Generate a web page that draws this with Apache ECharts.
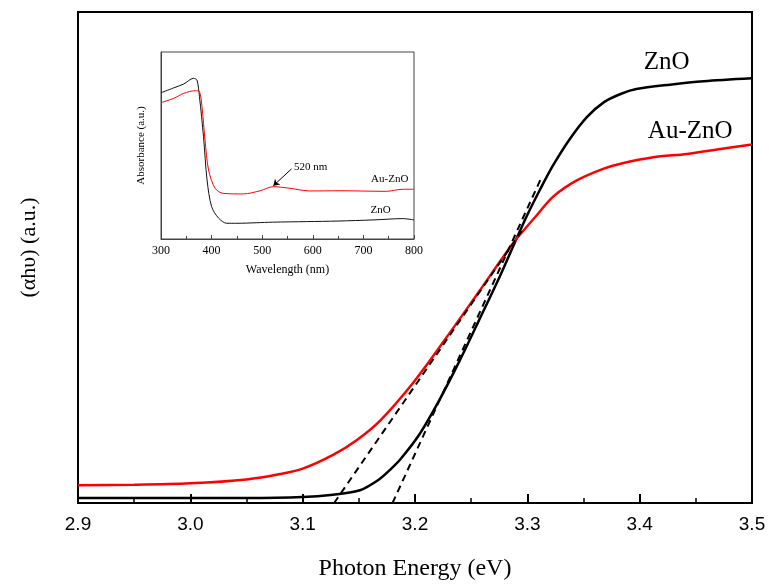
<!DOCTYPE html>
<html>
<head>
<meta charset="utf-8">
<script src="https://cdn.jsdelivr.net/npm/echarts/dist/echarts.min.js"></script>
<style>
  html, body { margin: 0; padding: 0; background: #fff; }
  #chartTauc { width: 769px; height: 586px; }
</style>
</head>
<body>
<div id="chartTauc"></div>
<script>
// main plot: (ahv) vs photon energy
const energyZnO = [2.90, 3.00, 3.05, 3.10, 3.127, 3.151, 3.168, 3.178, 3.187, 3.204, 3.222, 3.240, 3.258, 3.276, 3.288, 3.299, 3.311, 3.323, 3.338, 3.353, 3.368, 3.383, 3.397, 3.427, 3.457, 3.50]
const alphaZnO = [1.0, 1.0, 1.0, 1.2, 1.7, 2.6, 4.8, 6.8, 8.9, 14.0, 21.1, 29.1, 37.7, 46.4, 52.6, 58.2, 63.7, 68.8, 74.2, 78.6, 81.6, 83.3, 84.3, 85.2, 85.9, 86.5]
const energyAu = [2.90, 2.95, 3.00, 3.05, 3.08, 3.10, 3.127, 3.148, 3.169, 3.198, 3.228, 3.258, 3.288, 3.308, 3.323, 3.344, 3.368, 3.383, 3.412, 3.442, 3.472, 3.50]
const alphaAu = [3.6, 3.7, 4.0, 4.8, 5.9, 7.0, 9.8, 12.8, 16.8, 24.4, 33.7, 43.4, 53.1, 58.5, 62.4, 65.7, 68.1, 69.1, 70.4, 71.1, 72.1, 73.0]
// tangent (band gap) lines
const tangentAu = [[3.128, 0], [3.295, 55.4]]
const tangentZnO = [[3.180, 0], [3.312, 66]]

// inset: absorbance vs wavelength
const wlZnO = [300, 324, 345, 364, 371, 376, 384, 391, 400, 414, 430, 450, 489, 520, 588, 650, 719, 778, 800]
const absZnO = [78.2, 80.7, 82.9, 85.9, 85.0, 76.1, 54.7, 31.6, 17.3, 11.1, 8.4, 8.4, 8.7, 9.0, 9.3, 9.6, 10.2, 10.9, 10.2]
const wlAu = [300, 325, 345, 368, 376, 381, 387, 394, 407, 423, 463, 496, 522, 555, 594, 653, 745, 778, 800]
const absAu = [72.9, 75.2, 77.9, 79.3, 78.8, 70.7, 52.9, 36.9, 27.1, 24.4, 24.1, 25.8, 28.0, 27.1, 25.7, 25.8, 25.5, 26.6, 26.6]

const zip = (xs, ys) => xs.map((x, i) => [x, ys[i]])
const serif = 'Liberation Serif'

let myChart = echarts.init(document.getElementById('chartTauc'))
let option = {
  animation: false,
  backgroundColor: '#fff',
  grid: [
    { left: 78, top: 12, right: 17, bottom: 74, show: true, borderColor: '#000', borderWidth: 2 },
    { left: 161, top: 52, width: 253, height: 187, show: true, borderColor: '#444', borderWidth: 1, backgroundColor: '#fff' }
  ],
  xAxis: [
    {
      gridIndex: 0,
      type: 'value',
      min: 2.9,
      max: 3.5,
      interval: 0.1,
      splitLine: { show: false },
      axisLine: { lineStyle: { color: '#000', width: 2 } },
      axisTick: { inside: true, length: 9, lineStyle: { color: '#000', width: 2 } },
      minorTick: { show: true, splitNumber: 2, length: 5, lineStyle: { color: '#000', width: 1.5 } },
      axisLabel: {
        margin: 12,
        color: '#000',
        fontFamily: 'Liberation Sans',
        fontSize: 19,
        formatter: v => v.toFixed(1)
      },
      name: 'Photon Energy (eV)',
      nameLocation: 'middle',
      nameGap: 54,
      nameTextStyle: { color: '#000', fontFamily: serif, fontSize: 24 }
    },
    {
      gridIndex: 1,
      type: 'value',
      min: 300,
      max: 800,
      interval: 100,
      splitLine: { show: false },
      axisLine: { lineStyle: { color: '#444', width: 1 } },
      axisTick: { inside: true, length: 4, lineStyle: { color: '#444' } },
      minorTick: { show: true, splitNumber: 2, length: 3, lineStyle: { color: '#444' } },
      axisLabel: { margin: 6, color: '#000', fontFamily: serif, fontSize: 12 },
      name: 'Wavelength (nm)',
      nameLocation: 'middle',
      nameGap: 25,
      nameTextStyle: { color: '#000', fontFamily: serif, fontSize: 12 }
    }
  ],
  yAxis: [
    {
      gridIndex: 0,
      type: 'value',
      min: 0,
      max: 100,
      splitLine: { show: false },
      axisTick: { show: false },
      axisLabel: { show: false },
      axisLine: { show: true, lineStyle: { color: '#000', width: 2 } },
      name: '(αhυ) (a.u.)',
      nameLocation: 'middle',
      nameGap: 38,
      nameTextStyle: { color: '#000', fontFamily: serif, fontSize: 22, padding: [0, 0, 0, 20] }
    },
    {
      gridIndex: 1,
      type: 'value',
      min: 0,
      max: 100,
      splitLine: { show: false },
      axisTick: { show: false },
      axisLabel: { show: false },
      axisLine: { show: true, lineStyle: { color: '#444', width: 1 } },
      name: 'Absorbance (a.u.)',
      nameLocation: 'middle',
      nameGap: 14,
      nameTextStyle: { color: '#000', fontFamily: serif, fontSize: 11 }
    }
  ],
  series: [
    {
      name: 'ZnO',
      type: 'line',
      xAxisIndex: 0,
      yAxisIndex: 0,
      data: zip(energyZnO, alphaZnO),
      smooth: 0.3,
      showSymbol: false,
      lineStyle: { color: '#000', width: 2.5 },
      markPoint: {
        symbol: 'circle',
        symbolSize: 0,
        label: { show: true, position: 'inside', formatter: 'ZnO', color: '#000', fontFamily: serif, fontSize: 25 },
        data: [{ coord: [3.424, 89.8] }]
      }
    },
    {
      name: 'Au-ZnO',
      type: 'line',
      xAxisIndex: 0,
      yAxisIndex: 0,
      data: zip(energyAu, alphaAu),
      smooth: 0.3,
      showSymbol: false,
      lineStyle: { color: '#ff0000', width: 2.5 },
      markPoint: {
        symbol: 'circle',
        symbolSize: 0,
        label: { show: true, position: 'inside', formatter: 'Au-ZnO', color: '#000', fontFamily: serif, fontSize: 25 },
        data: [{ coord: [3.445, 75.6] }]
      }
    },
    {
      type: 'line',
      xAxisIndex: 0,
      yAxisIndex: 0,
      data: tangentAu,
      showSymbol: false,
      z: 3,
      lineStyle: { color: '#000', width: 2, type: [7, 5] }
    },
    {
      type: 'line',
      xAxisIndex: 0,
      yAxisIndex: 0,
      data: tangentZnO,
      showSymbol: false,
      z: 3,
      lineStyle: { color: '#000', width: 2, type: [7, 5] }
    },
    {
      name: 'ZnO inset',
      type: 'line',
      xAxisIndex: 1,
      yAxisIndex: 1,
      data: zip(wlZnO, absZnO),
      smooth: 0.3,
      showSymbol: false,
      lineStyle: { color: '#111', width: 1 },
      markPoint: {
        symbol: 'circle',
        symbolSize: 0,
        label: { show: true, position: 'inside', formatter: 'ZnO', color: '#000', fontFamily: serif, fontSize: 11 },
        data: [{ coord: [734, 15.5] }]
      }
    },
    {
      name: 'Au-ZnO inset',
      type: 'line',
      xAxisIndex: 1,
      yAxisIndex: 1,
      data: zip(wlAu, absAu),
      smooth: 0.3,
      showSymbol: false,
      lineStyle: { color: '#ff0000', width: 1 },
      markPoint: {
        symbol: 'circle',
        symbolSize: 0,
        label: { show: true, position: 'inside', color: '#000', fontFamily: serif, fontSize: 11, formatter: p => p.name },
        data: [
          { name: 'Au-ZnO', coord: [752, 32] },
          { name: '520 nm', coord: [596, 38.5] }
        ]
      },
      // arrow to the 520 nm plasmon peak
      markLine: {
        silent: true,
        symbol: ['none', 'arrow'],
        symbolSize: 6,
        label: { show: false },
        lineStyle: { color: '#000', width: 1, type: 'solid' },
        data: [[{ coord: [558, 37.5] }, { coord: [522, 28.5] }]]
      }
    }
  ]
}
myChart.setOption(option, true)
window.addEventListener('resize', function () {
  myChart.resize()
})
</script>
</body>
</html>
